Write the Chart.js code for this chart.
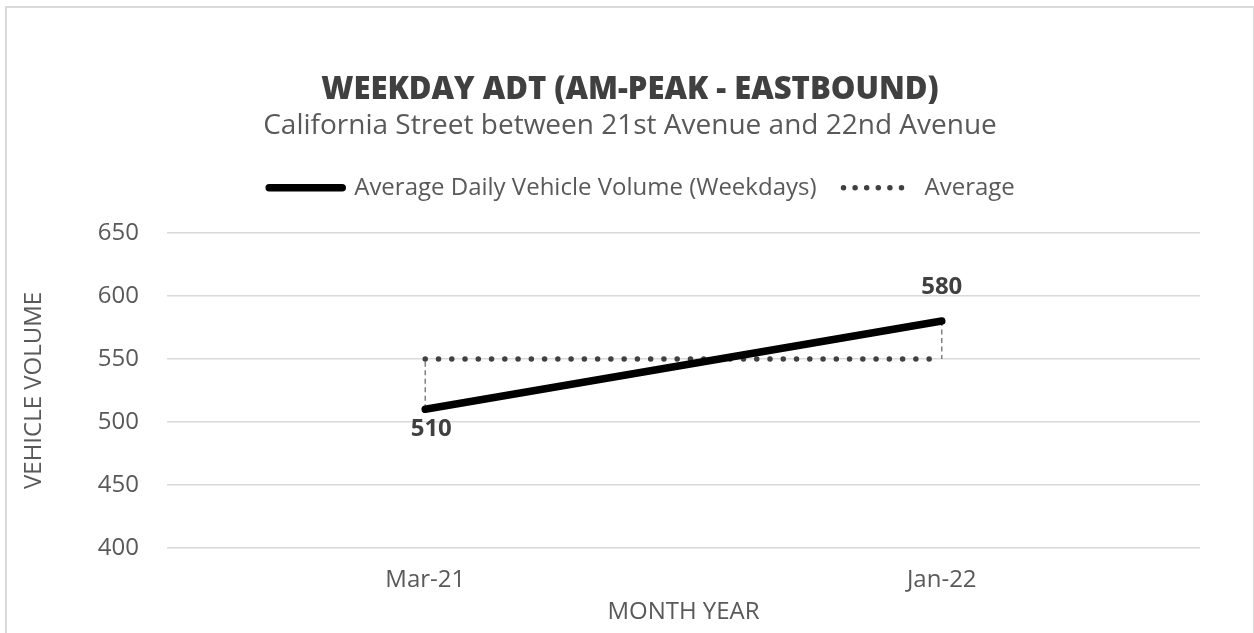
<!DOCTYPE html>
<html>
<head>
<meta charset="utf-8">
<script src="https://cdn.jsdelivr.net/npm/chart.js@4.4.1/dist/chart.umd.min.js"></script>
<style>
  html, body { margin: 0; padding: 0; background: #fff; overflow: hidden; }
  #frame { position: absolute; left: 5px; top: 6px; width: 1250px; height: 700px; border: 2px solid #d9d9d9; box-sizing: border-box; }
  #wrap { position: absolute; left: 0; top: 0; width: 1254px; height: 633px; }
</style>
</head>
<body>
<div id="frame"></div>
<div id="wrap"><canvas id="adtChart" width="1254" height="633"></canvas></div>
<script>
// Chart data
const months = ['Mar-21', 'Jan-22'];
const weekdayVolume = [510, 580];
const averageVolume = [550, 550];
const yTicks = { min: 400, max: 650, step: 50 };
const labelSide = ['below', 'above'];

const FONT = "'Open Sans', 'Noto Sans', sans-serif";
const GREY_TEXT = '#595959';

// Dashed drop lines between the two series at each month
const dropLines = {
  id: 'dropLines',
  beforeDatasetsDraw(chart) {
    const a = chart.getDatasetMeta(0).data;
    const b = chart.getDatasetMeta(1).data;
    const ctx = chart.ctx;
    ctx.save();
    ctx.strokeStyle = '#808080';
    ctx.lineWidth = 1.5;
    ctx.setLineDash([5, 3.5]);
    a.forEach((pt, i) => {
      if (!b[i]) return;
      ctx.beginPath();
      ctx.moveTo(pt.x, pt.y);
      ctx.lineTo(b[i].x, b[i].y);
      ctx.stroke();
    });
    ctx.restore();
  }
};

// Value labels on the main series
const valueLabels = {
  id: 'valueLabels',
  afterDatasetsDraw(chart) {
    const ctx = chart.ctx;
    const pts = chart.getDatasetMeta(0).data;
    ctx.save();
    ctx.font = 'bold 24px ' + FONT;
    ctx.fillStyle = '#404040';
    ctx.textAlign = 'center';
    ctx.textBaseline = 'alphabetic';
    pts.forEach((pt, i) => {
      const below = labelSide[i] === 'below';
      ctx.fillText(String(weekdayVolume[i]), pt.x + (below ? 6 : 0), pt.y + (below ? 27 : -27));
    });
    ctx.restore();
  }
};

// Extra room under the legend, and nudge the header blocks to the frame centre
const headerLayout = {
  id: 'headerLayout',
  beforeInit(chart) {
    const fit = chart.legend.fit;
    chart.legend.fit = function() {
      fit.call(this);
      this.height += 23;
    };
  },
  afterLayout(chart) {
    chart.boxes.forEach(box => {
      if (box === chart.legend) {
        box.left += 32; box.right += 32;
      } else if (box.options && box.options.text && box.position === 'top') {
        box.left += 20; box.right += 20;
      }
    });
  }
};

const ctx = document.getElementById('adtChart');
new Chart(ctx.getContext('2d'), {
  type: 'line',
  data: {
    labels: months,
    datasets: [{
      label: 'Average Daily Vehicle Volume (Weekdays)',
      data: weekdayVolume,
      borderColor: '#000000',
      backgroundColor: '#000000',
      borderWidth: 7.5,
      borderCapStyle: 'round',
      pointRadius: 0,
      tension: 0
    }, {
      label: 'Average',
      data: averageVolume,
      borderColor: '#404040',
      backgroundColor: '#404040',
      borderWidth: 5.5,
      borderCapStyle: 'round',
      borderDash: [0, 13.26],
      pointRadius: 0,
      tension: 0
    }]
  },
  options: {
    responsive: false,
    animation: false,
    layout: { padding: { left: 20, right: 54, top: 72, bottom: 6 } },
    plugins: {
      title: {
        display: true,
        text: 'WEEKDAY ADT (AM-PEAK - EASTBOUND)',
        color: '#404040',
        font: { family: FONT, size: 31, weight: 800 },
        padding: { top: 0, bottom: 0 }
      },
      subtitle: {
        display: true,
        text: 'California Street between 21st Avenue and 22nd Avenue',
        color: GREY_TEXT,
        font: { family: FONT, size: 28 },
        padding: { top: 0, bottom: 10 }
      },
      legend: {
        position: 'top',
        labels: {
          color: GREY_TEXT,
          font: { family: FONT, size: 24 },
          usePointStyle: true,
          pointStyle: 'line',
          pointStyleWidth: 73,
          padding: 23,
          generateLabels(chart) {
            const items = Chart.defaults.plugins.legend.labels.generateLabels(chart);
            items.forEach(it => {
              it.lineCap = 'round';
              if (it.datasetIndex === 1) {
                it.lineDash = [0, 11.6];
                it.lineDashOffset = 7.6;
              }
            });
            return items;
          }
        }
      },
      tooltip: { enabled: false }
    },
    scales: {
      x: {
        offset: true,
        grid: { display: false },
        border: { display: false },
        ticks: { color: GREY_TEXT, font: { family: FONT, size: 24 }, padding: 9.6 },
        title: { display: true, text: 'MONTH YEAR', color: GREY_TEXT, font: { family: FONT, size: 24 }, padding: { top: 0, bottom: 0 } },
        afterFit(scale) { scale.height = 79; }
      },
      y: {
        min: yTicks.min,
        max: yTicks.max,
        ticks: { stepSize: yTicks.step, color: GREY_TEXT, font: { family: FONT, size: 24 }, padding: 28 },
        grid: { color: '#d9d9d9', lineWidth: 1.5, drawTicks: false },
        border: { display: false },
        title: { display: true, text: 'VEHICLE VOLUME', color: GREY_TEXT, font: { family: FONT, size: 24 }, padding: 0 },
        afterFit(scale) { scale.width = 147; }
      }
    }
  },
  plugins: [dropLines, valueLabels, headerLayout]
});
</script>
</body>
</html>
